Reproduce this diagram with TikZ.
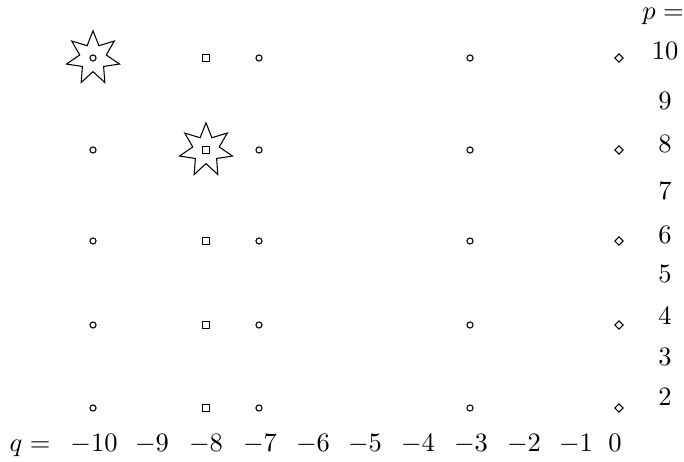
\documentclass[tikz,border=0pt]{standalone}
\usepackage{amsmath,amssymb}
\usepackage{tikz}
\usetikzlibrary{shapes.geometric}

\begin{document}
\begin{tikzpicture}[x=0.377pt, y=-0.377pt,
    dot/.style={circle, draw, inner sep=0pt, minimum size=2.3pt},
    sq/.style={rectangle, draw, inner sep=0pt, minimum size=2.4pt},
    dia/.style={diamond, draw, inner sep=0pt, minimum size=3.3pt},
    burst/.style={star, star points=7, star point ratio=2, draw, inner sep=0pt, minimum size=20.5pt},
    lab/.style={anchor=base, inner sep=0pt}]
    % 画布范围
    \useasboundingbox (0,0) rectangle (684,462);

    % 每一行的小记号 (p = 10, 8, 6, 4, 2)
    \foreach \p/\y in {10/58, 8/150, 6/241, 4/325, 2/408} {
        \node[dot] (c10-\p) at (93,\y) {};
        \node[sq]  (s8-\p)  at (206,\y) {};
        \node[dot] (c7-\p)  at (259,\y) {};
        \node[dot] (c3-\p)  at (470,\y) {};
        \node[dia] (d0-\p)  at (619,\y) {};
    }

    % 两个七角星
    \node[burst] (star1) at (c10-10) {};
    \node[burst] (star2) at (s8-8) {};

    % 下方 q 的刻度
    \node[lab] (qeq) at (30,451) {$q=$};
    \foreach \q/\x in {-10/94, -9/152, -8/206, -7/260, -6/313, -5/365, -4/418, -3/471, -2/524, -1/576, 0/615}
        \node[lab] (q\q) at (\x,451) {$\q$};

    % 右侧 p 的刻度
    \node[lab] (peq) at (663,20) {$p=$};
    \foreach \p/\y in {10/60, 9/110, 8/153, 7/200, 6/244, 5/283, 4/325, 3/365, 2/405}
        \node[lab] (p\p) at (665,\y) {$\p$};
\end{tikzpicture}
\end{document}
